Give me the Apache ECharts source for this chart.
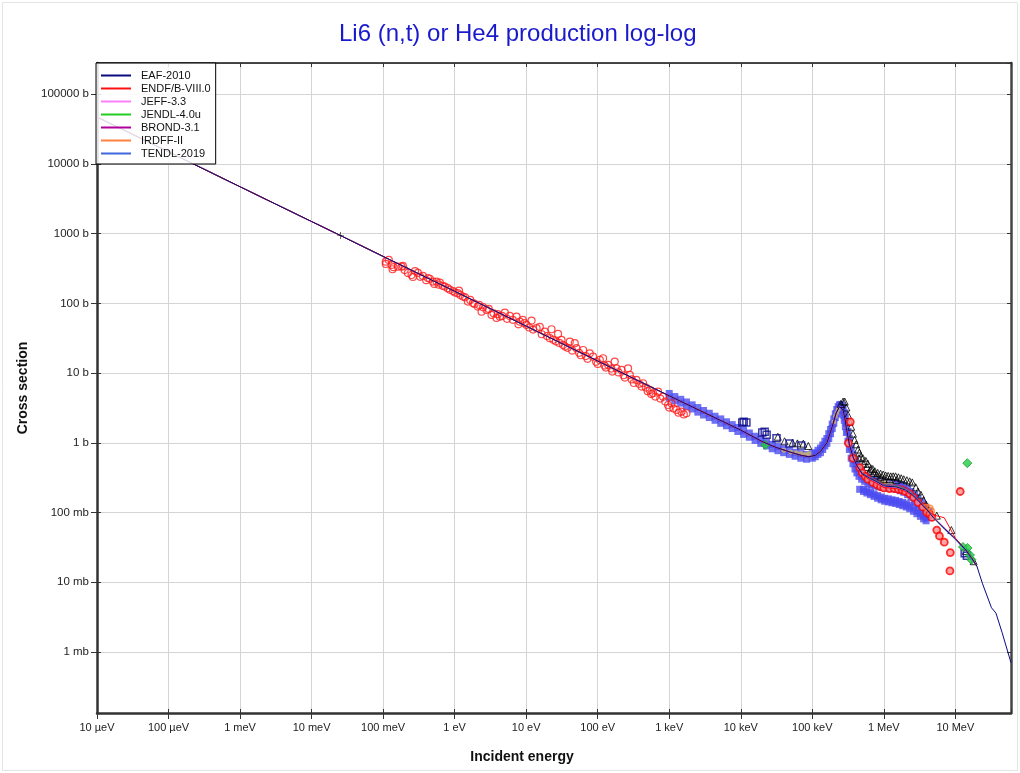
<!DOCTYPE html>
<html><head><meta charset="utf-8">
<script src="https://cdn.jsdelivr.net/npm/echarts@6/dist/echarts.min.js"></script>
<style>html,body{margin:0;padding:0;background:#fff}#c{width:1020px;height:773px}</style>
</head><body><div id="c"></div>
<script>
// ---- axis ranges & tick labels ----
const X_MIN = 1e-5, X_MAX = 6e7, Y_MIN = 1.33e-4, Y_MAX = 2.8e5;
const xTickLabels = ['10 µeV','100 µeV','1 meV','10 meV','100 meV','1 eV','10 eV','100 eV','1 keV','10 keV','100 keV','1 MeV','10 MeV']; // 1e-5 .. 1e7
const yTickLabels = ['1 mb','10 mb','100 mb','1 b','10 b','100 b','1000 b','10000 b','100000 b']; // 1e-3 .. 1e5

// ---- evaluated libraries ----
const libNames = ['EAF-2010','ENDF/B-VIII.0','JEFF-3.3','JENDL-4.0u','BROND-3.1','IRDFF-II','TENDL-2019'];
const libColors = ['#0a0a80','#ff1010','#ff80ff','#22cc22','#b0009c','#ff8040','#3f66dd'];
const evalLowE = [1e-5,1e-4,1e-3,1e-2,0.0253,0.1,1,10,100,1e3,1e4,2e4,3e4,5e4,7e4,9e4,1.1e5,1.3e5,1.6e5,1.9e5,2.15e5,2.4e5,2.55e5,2.7e5,2.85e5,3e5,3.3e5,3.7e5,4.2e5];
const evalLowS = [47000,14900,4700,1490,940,471,149,47.1,14.9,4.71,1.52,1.04,0.87,0.73,0.66,0.63,0.66,0.75,1.0,1.7,2.65,3.3,3.4,2.95,2.25,1.6,0.95,0.63,0.47];
const evalHighE = [5e5,6.3e5,8e5,1e6,1.5e6,2e6,2.5e6,3e6,4e6,5e6,7e6,1e7,1.4e7,1.7e7,2e7];
const eafHigh   = [0.36,0.31,0.275,0.24,0.232,0.21,0.18,0.15,0.11,0.083,0.059,0.042,0.029,0.022,0.017];
const endfHigh  = [0.35,0.295,0.26,0.228,0.22,0.2,0.175,0.148,0.108,0.092,0.084,0.043,0.029,0.022,0.017];
const jeffHigh  = [0.355,0.305,0.27,0.236,0.228,0.207,0.178,0.15,0.11,0.084,0.06,0.042,0.029,0.022,0.017];
const jendlHigh = [0.36,0.31,0.275,0.238,0.235,0.212,0.18,0.151,0.11,0.083,0.059,0.042,0.029,0.022,0.017];
const brondHigh = [0.355,0.3,0.268,0.232,0.226,0.205,0.177,0.149,0.109,0.084,0.06,0.042,0.029,0.022,0.017];
const irdffHigh = [0.35,0.295,0.262,0.23,0.222,0.202,0.176,0.149,0.108,0.085,0.06,0.042,0.029,0.022,0.017];
const tendlHigh = [0.365,0.32,0.285,0.25,0.245,0.222,0.19,0.156,0.112,0.084,0.058,0.041,0.028,0.021,0.017];
const eafTailE = [2.4e7,3.2e7,3.7e7,4.5e7,6e7];
const eafTailS = [0.0095,0.0043,0.0036,0.0019,0.0007];

// ---- experimental data (EXFOR) ----
const expRedLow = [[0.109,396],[0.109,367],[0.12,420],[0.131,356],[0.1355,308],[0.14,330],[0.161,336],[0.181,336],[0.189,344],[0.2,300],[0.222,273],[0.25,255],[0.261,239],[0.28,290],[0.306,273],[0.33,240],[0.36,247],[0.4,215],[0.423,231],[0.45,225],[0.495,205],[0.52,190],[0.558,205],[0.6,185],[0.621,198],[0.68,178],[0.73,174],[0.8,165],[0.857,156],[0.95,150],[1.01,143],[1.1,140],[1.15,152],[1.2,132],[1.3,125],[1.4,122],[1.53,106],[1.65,112],[1.8,101],[1.9,98],[2.11,89.7],[2.2,95],[2.38,76],[2.5,88],[2.79,80.4],[3.0,83],[3.28,68.2],[3.5,72],[3.85,61.8],[4.0,70],[4.29,64.4],[4.6,66],[5.03,73.6],[5.4,60],[5.9,65.9],[6.5,58],[7.33,64.4],[7.8,50],[8.15,54.6],[8.98,57.8],[9.5,52],[10.1,49],[11,45],[11.9,56.5],[12.5,42],[14,44],[15.5,45.8],[16.5,36],[18.2,39.3],[19.5,34],[21.4,31.6],[22.6,42.5],[24,30],[26,28.5],[27.9,36.4],[29,27],[31.2,29.9],[32.8,25.3],[35,24],[38,23],[40.7,28.2],[44,21],[47.8,26.8],[50.5,22.7],[55,19.5],[58,18],[62.5,21.4],[68,17.5],[72,16],[77.5,19.2],[86.1,17.2],[95,14.5],[100,13.5],[107,15.4],[119,16.3],[125,12.8],[130,12],[140,13.1],[155,11.6],[160,10.5],[173,14.6],[183,11.7],[195,10.2],[215,11.1],[230,9.3],[240,8.6],[266,11.7],[281,9.4],[300,8.1],[320,7.2],[348,7.96],[380,7.0],[410,6.4],[431,7.14],[470,6.2],[500,5.5],[535,5.73],[560,5.0],[594,5.13],[640,4.6],[698,5.41],[750,4.3],[820,4.58],[880,3.9],[964,3.48],[1000,3.2],[1072,3.69],[1150,3.1],[1262,2.96],[1350,2.7],[1483,2.79],[1600,2.55],[1742,2.65]];
const expBlue = [[1000,4.4],[1000,5.1],[1200,4.0],[1200,4.6],[1450,3.7],[1450,4.2],[1740,3.3],[1740,3.85],[2090,3.05],[2090,3.5],[2510,2.75],[2510,3.2],[3020,2.5],[3020,2.9],[3630,2.3],[3630,2.65],[4370,2.1],[4370,2.4],[5250,1.9],[5250,2.2],[6310,1.75],[6310,2.0],[7590,1.6],[7590,1.82],[9120,1.45],[9120,1.66],[10960,1.32],[10960,1.5],[13180,1.2],[13180,1.38],[15850,1.08],[15850,1.24],[19050,0.98],[19050,1.12],[22900,0.9],[22900,1.03],[27540,0.82],[27540,0.95],[33110,0.77],[33110,0.88],[39810,0.72],[39810,0.82],[47860,0.68],[47860,0.77],[57540,0.64],[57540,0.73],[69180,0.6],[69180,0.7],[83180,0.58],[83180,0.68],[100000,0.6],[100000,0.7],
[110000,0.63],[110000,0.72],[120000,0.68],[120000,0.78],[130000,0.72],[130000,0.84],[140000,0.8],[140000,0.93],[150000,0.9],[150000,1.05],[160000,0.98],[160000,1.15],[170000,1.15],[170000,1.35],[180000,1.35],[180000,1.55],[190000,1.6],[190000,1.85],[200000,1.9],[200000,2.2],[210000,2.3],[210000,2.6],[220000,2.6],[220000,3.0],[230000,2.9],[230000,3.3],[240000,3.1],[240000,3.5],[250000,3.1],[250000,3.55],[260000,2.9],[260000,3.4],[270000,2.5],[270000,3.1],[280000,2.1],[280000,2.7],[290000,1.7],[290000,2.3],[300000,1.4],[300000,1.9],[315000,1.05],[315000,1.45],[330000,0.8],[330000,1.15],[350000,0.6],[350000,0.85],[370000,0.5],[370000,0.68],[395000,0.42],[395000,0.55],[420000,0.37],[420000,0.48],[450000,0.33],[450000,0.42],[490000,0.3],[490000,0.38],[540000,0.28],[540000,0.34],[600000,0.26],[600000,0.32],[670000,0.25],[670000,0.3],[750000,0.24],[750000,0.29],[850000,0.235],[850000,0.28],[950000,0.23],[950000,0.275],[1.07e6,0.225],[1.07e6,0.27],[1.2e6,0.225],[1.2e6,0.265],[1.35e6,0.22],[1.35e6,0.26],[1.5e6,0.215],[1.5e6,0.26],[1.7e6,0.205],[1.7e6,0.25],[1.9e6,0.195],[1.9e6,0.24],[2.15e6,0.18],[2.15e6,0.22],[2.4e6,0.165],[2.4e6,0.2],[2.7e6,0.145],[2.7e6,0.18],[3.0e6,0.13],[3.0e6,0.16],[3.4e6,0.115],[3.4e6,0.14],[3.8e6,0.1],[3.8e6,0.12],[4.3e6,0.085],[4.3e6,0.105],
[4.6e5,0.215],[5.2e5,0.2],[5.2e5,0.215],[5.8e5,0.19],[5.8e5,0.205],[6.5e5,0.18],[6.5e5,0.195],[7.3e5,0.17],[7.3e5,0.185],[8.2e5,0.16],[8.2e5,0.175],[9.2e5,0.152],[9.2e5,0.167],[1.03e6,0.145],[1.03e6,0.16],[1.16e6,0.142],[1.16e6,0.157],[1.3e6,0.138],[1.3e6,0.152],[1.46e6,0.135],[1.46e6,0.149],[1.64e6,0.13],[1.64e6,0.144],[1.84e6,0.125],[1.84e6,0.139],[2.06e6,0.12],[2.06e6,0.133],[2.3e6,0.113],[2.3e6,0.127],[2.6e6,0.104],[2.6e6,0.118],[2.9e6,0.096],[2.9e6,0.108],[3.25e6,0.088],[3.25e6,0.1],[3.6e6,0.081],[3.6e6,0.092],[3.9e6,0.076],[3.9e6,0.086]];
const expTriangle = [[33000,1.22],[41000,1.05],[53000,1.0],[62000,0.98],[75000,0.97],[88000,0.9],[250000,3.6],[270000,3.9],[284000,3.9],[300000,3.2],[316000,2.5],[333000,2.0],[350000,1.7],[370000,1.35],[390000,1.1],[410000,0.95],[435000,0.8],[450000,0.6],[455000,0.72],[480000,0.63],[510000,0.6],[520000,0.5],[560000,0.55],[580000,0.45],[600000,0.5],[650000,0.4],[660000,0.43],[700000,0.42],[720000,0.37],[750000,0.39],[800000,0.34],[820000,0.37],[900000,0.36],[900000,0.32],[980000,0.35],[1.0e6,0.3],[1.06e6,0.34],[1.15e6,0.335],[1.2e6,0.3],[1.25e6,0.33],[1.35e6,0.33],[1.46e6,0.33],[1.5e6,0.29],[1.6e6,0.32],[1.75e6,0.31],[1.9e6,0.3],[2.1e6,0.29],[2.3e6,0.28],[2.5e6,0.27],[2.8e6,0.23],[3.0e6,0.2],[3.3e6,0.18],[3.6e6,0.15],[3.9e6,0.13],[5.5e6,0.09],[8.8e6,0.056],[1.4e7,0.028],[1.8e7,0.02]];
const expNavySquare = [[10500,1.95],[11000,2.0],[12000,1.95],[20000,1.4],[21600,1.44],[23000,1.3],[31600,1.16],[48000,0.98],[70000,0.91],[1.35e7,0.026],[1.45e7,0.024]];
const expKhaki = [[40000,0.78],[50000,0.74],[60000,0.72],[70000,0.7],[80000,0.68],[90000,0.7],[200000,2.0],[210000,2.4],[220000,2.7],[230000,3.0],[900000,0.28],[1.0e6,0.27],[1.1e6,0.27],[1.3e6,0.26]];
const expRedHigh = [[320000,0.99],[340000,2.0],[370000,0.6],[460000,0.44],[500000,0.37],[550000,0.33],[600000,0.3],[700000,0.27],[800000,0.25],[900000,0.235],[1.0e6,0.225],[1.2e6,0.22],[1.4e6,0.22],[1.6e6,0.215],[1.8e6,0.21],[2.0e6,0.2],[2.3e6,0.185],[2.6e6,0.165],[3e6,0.14],[3.5e6,0.12],[4e6,0.1],[4.4e6,0.095],[4.7e6,0.085],[5.5e6,0.056],[6e6,0.046],[7e6,0.0375],[8.5e6,0.0266],[8.4e6,0.0145],[1.17e7,0.2]];
const expGreen = [[22000,0.93],[1.47e7,0.51],[1.28e7,0.032],[1.48e7,0.031],[1.6e7,0.0245],[1.68e7,0.021]];
const expOrange = [[4.0e6,0.118],[4.4e6,0.115],[4.6e6,0.105]];
const expThermal = [[0.0253,940]];

// ---- build ----
const FONT = "'Liberation Sans', Arial, sans-serif";
function isDecade(v){ const l = Math.log10(v); return Math.abs(l - Math.round(l)) < 1e-6; }
function zip(a, b){ return a.map((x, i) => [x, b[i]]); }

const highs = [eafHigh, endfHigh, jeffHigh, jendlHigh, brondHigh, irdffHigh, tendlHigh];
const lineSeries = libNames.map((name, i) => {
  let data = zip(evalLowE, evalLowS).concat(zip(evalHighE, highs[i]));
  if (i === 0) data = data.concat(zip(eafTailE, eafTailS));
  return { name, type: 'line', data, showSymbol: false, symbol: 'none', z: 5,
    lineStyle: { color: libColors[i], width: 1 }, itemStyle: { color: libColors[i] } };
});
const orderedLines = [6,5,4,3,2,1,0].map(i => lineSeries[i]);

function scat(data, symbol, size, fill, stroke, bw, z){
  return { type: 'scatter', data, symbol, symbolSize: size, z: z || 3,
    itemStyle: { color: fill, borderColor: stroke, borderWidth: bw } };
}
const scatterSeries = [
  scat(expBlue, 'rect', 7, '#4c4cf0', '#4c4cf0', 0),
  scat(expKhaki, 'circle', 5, '#c8b46e', '#c8b46e', 0),
  scat(expRedLow, 'circle', 7, 'rgba(255,255,255,0)', '#ff1a1a', 1.2),
  scat(expTriangle, 'triangle', 7, 'rgba(255,255,255,0)', '#000', 1),
  scat(expNavySquare, 'rect', 7, 'rgba(255,255,255,0)', '#0a0a90', 1.5),
  scat(expRedHigh, 'circle', 7, '#ff9090', '#ff0000', 1.8),
  scat(expOrange, 'circle', 6, 'rgba(255,255,255,0)', '#ff8030', 1.5),
  scat(expGreen, 'diamond', 9, '#22cc44', '#10a030', 1),
  scat(expThermal, 'path://M0,4.5 H10 V5.5 H0 Z M4.5,0 H5.5 V10 H4.5 Z', 7, '#000', '#000', 0, 6)
];

const xBase = { type: 'log', logBase: 10, min: X_MIN, max: X_MAX, interval: 1, splitNumber: 13 };
const yBase = { type: 'log', logBase: 10, min: Y_MIN, max: Y_MAX, splitNumber: 10 };
const off = { show: false };

const option = {
  animation: false,
  backgroundColor: '#fff',
  title: { text: 'Li6 (n,t) or He4 production log-log', left: 339, top: 22, padding: 0,
    textStyle: { color: '#1a1acd', fontSize: 24, fontWeight: 'normal', fontFamily: FONT } },
  grid: { left: 97, right: 9, top: 63, bottom: 60, containLabel: false },
  legend: {
    data: libNames, orient: 'vertical', left: 96, top: 63, icon: 'rect',
    itemWidth: 30, itemHeight: 2, itemGap: 0, padding: [6, 5, 4, 5],
    borderColor: '#000', borderWidth: 1, backgroundColor: 'rgba(255,255,255,0.85)',
    textStyle: { fontSize: 11, lineHeight: 13, color: '#111', fontFamily: FONT, padding: [0, 0, 0, 5] },
    z: 10
  },
  xAxis: [
    Object.assign({}, xBase, { position: 'bottom',
      axisLine: { lineStyle: { color: '#333', width: 2.5 } },
      axisTick: { inside: false, length: 6, lineStyle: { color: '#333', width: 1 } },
      axisLabel: { color: '#222', fontSize: 11, fontFamily: FONT, margin: 9, showMaxLabel: false,
        formatter: v => isDecade(v) ? (xTickLabels[Math.round(Math.log10(v)) + 5] || '') : '' },
      splitLine: { show: true, lineStyle: { color: '#d4d4d4', width: 1 } } }),
    Object.assign({}, xBase, { position: 'bottom', axisLine: off, axisLabel: off, splitLine: off,
      axisTick: { inside: true, length: 4, lineStyle: { color: '#333', width: 1 } } }),
    Object.assign({}, xBase, { position: 'top', axisLabel: off, splitLine: off,
      axisLine: { lineStyle: { color: '#111', width: 1.5 } },
      axisTick: { inside: true, length: 4, lineStyle: { color: '#333', width: 1 } } })
  ],
  yAxis: [
    Object.assign({}, yBase, { position: 'left',
      name: 'Cross section', nameLocation: 'middle', nameGap: 59, nameRotate: 90,
      nameTextStyle: { fontSize: 14, fontWeight: 'bold', color: '#111', fontFamily: FONT },
      axisLine: { lineStyle: { color: '#333', width: 2.5 } },
      axisTick: { inside: false, length: 6, lineStyle: { color: '#333', width: 1 } },
      axisLabel: { color: '#222', fontSize: 11.5, fontFamily: FONT, margin: 8, showMinLabel: false, showMaxLabel: false,
        formatter: v => isDecade(v) ? (yTickLabels[Math.round(Math.log10(v)) + 3] || '') : '' },
      splitLine: { show: true, lineStyle: { color: '#d4d4d4', width: 1 } } }),
    Object.assign({}, yBase, { position: 'left', axisLine: off, axisLabel: off, splitLine: off,
      axisTick: { inside: true, length: 4, lineStyle: { color: '#333', width: 1 } } }),
    Object.assign({}, yBase, { position: 'right', axisLabel: off, splitLine: off,
      axisLine: { lineStyle: { color: '#444', width: 2.5 } },
      axisTick: { inside: true, length: 4, lineStyle: { color: '#333', width: 1 } } })
  ],
  graphic: [
    { type: 'rect', shape: { x: 2.5, y: 2.5, width: 1015, height: 768 }, style: { fill: 'none', stroke: '#e4e4e4', lineWidth: 1 }, silent: true, z: -1 },
    { type: 'text', x: 522, y: 757, style: { text: 'Incident energy', fontSize: 14, fontWeight: 'bold', fontFamily: FONT, fill: '#111', textAlign: 'center', textVerticalAlign: 'middle' } }
  ],
  series: scatterSeries.concat(orderedLines)
};

const chart = echarts.init(document.getElementById('c'), null, { renderer: 'canvas' });
chart.setOption(option);
</script>
</body></html>
